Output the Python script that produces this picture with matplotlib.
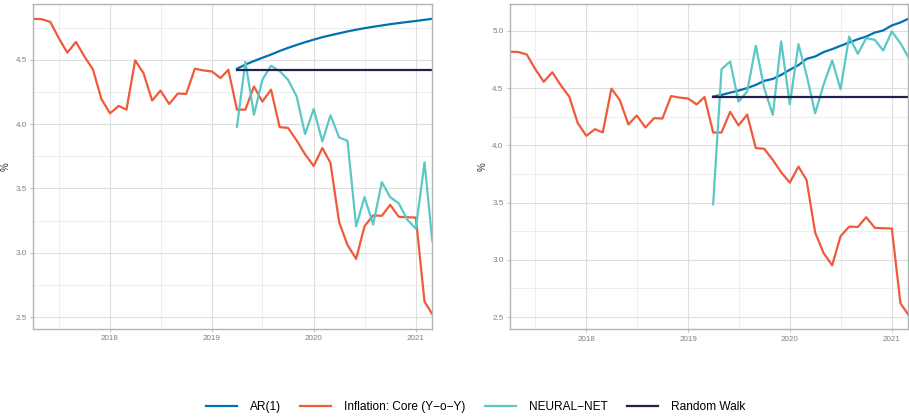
import numpy as np
import matplotlib
matplotlib.use("Agg")
import matplotlib.pyplot as plt
import matplotlib.dates as mdates

plt.rcParams['font.family'] = ['Liberation Sans', 'DejaVu Sans']

# monthly dates 2017-04 .. 2021-03
dates = np.arange(np.datetime64("2017-04"), np.datetime64("2021-04"), np.timedelta64(1, "M")).astype("datetime64[D]")
fc_dates = dates[24:]  # forecasts start 2019-04

inflation = [4.818, 4.815, 4.794, 4.669, 4.555, 4.638, 4.526, 4.424, 4.195, 4.083, 4.141, 4.112,
             4.495, 4.396, 4.182, 4.260, 4.156, 4.237, 4.234, 4.430, 4.417, 4.409, 4.357, 4.422,
             4.112, 4.112, 4.292, 4.174, 4.268, 3.976, 3.970, 3.872, 3.765, 3.674, 3.814, 3.698,
             3.238, 3.060, 2.952, 3.206, 3.290, 3.287, 3.372, 3.279, 3.276, 3.273, 2.620, 2.522]

# left panel forecasts
ar_left = [4.430, 4.462, 4.490, 4.515, 4.540, 4.568, 4.592, 4.615, 4.636, 4.656, 4.675, 4.690,
           4.705, 4.720, 4.733, 4.745, 4.756, 4.766, 4.776, 4.785, 4.793, 4.801, 4.810, 4.818]
nn_left = [3.979, 4.482, 4.073, 4.344, 4.453, 4.411, 4.344, 4.214, 3.922, 4.117, 3.865, 4.068,
           3.896, 3.870, 3.205, 3.432, 3.219, 3.549, 3.432, 3.383, 3.258, 3.187, 3.703, 3.090]

# right panel forecasts
ar_right = [4.426, 4.440, 4.460, 4.478, 4.500, 4.528, 4.563, 4.580, 4.615, 4.660, 4.700, 4.755,
            4.776, 4.814, 4.840, 4.869, 4.898, 4.927, 4.950, 4.985, 5.003, 5.047, 5.073, 5.105]
nn_right = [3.485, 4.665, 4.732, 4.382, 4.470, 4.869, 4.499, 4.266, 4.907, 4.359, 4.883, 4.615,
            4.280, 4.528, 4.741, 4.490, 4.950, 4.799, 4.936, 4.921, 4.828, 4.994, 4.892, 4.770]

rw_value = 4.422
random_walk = [rw_value] * len(fc_dates)

col_ar = "#0072B2"
col_inf = "#F05A3C"
col_nn = "#5BC8C6"
col_rw = "#231F50"

fig = plt.figure(figsize=(9.09, 4.18), dpi=100)
ax1 = fig.add_axes([0.0366, 0.2129, 0.439, 0.7775])
ax2 = fig.add_axes([0.5607, 0.2121, 0.4385, 0.7783])

panels = [(ax1, ar_left, nn_left), (ax2, ar_right, nn_right)]
for ax, ar, nn in panels:
    ax.plot(fc_dates, ar, color=col_ar, lw=1.6, label="AR(1)")
    ax.plot(dates, inflation, color=col_inf, lw=1.6, label="Inflation: Core (Y\u2212o\u2212Y)")
    ax.plot(fc_dates, nn, color=col_nn, lw=1.6, label="NEURAL\u2212NET")
    ax.plot(fc_dates, random_walk, color=col_rw, lw=1.6, label="Random Walk")

    ax.set_xlim(dates[0], dates[-1])
    allv = np.concatenate([inflation, ar, nn, random_walk])
    lo, hi = allv.min(), allv.max()
    pad = (hi - lo) * 0.05
    ax.set_ylim(lo - pad, hi + pad)

    ax.xaxis.set_major_locator(mdates.YearLocator())
    ax.xaxis.set_major_formatter(mdates.DateFormatter("%Y"))
    ax.xaxis.set_minor_locator(mdates.MonthLocator(bymonth=7))
    ax.yaxis.set_major_locator(plt.MultipleLocator(0.5))
    ax.yaxis.set_minor_locator(plt.MultipleLocator(0.25))
    ax.yaxis.set_major_formatter(plt.FormatStrFormatter("%.1f"))

    ax.grid(which="major", color="#DEDEDE", lw=0.8)
    ax.grid(which="minor", color="#EBEBEB", lw=0.6)
    ax.set_axisbelow(True)
    for s in ax.spines.values():
        s.set_color("#B3B3B3")
        s.set_linewidth(1.0)
    ax.tick_params(which="major", length=2.5, width=0.6, color="#B3B3B3",
                   labelsize=5.8, labelcolor="#7F7F7F", pad=2)
    ax.tick_params(which="minor", length=0)
    ax.set_ylabel("%", fontsize=7, color="#333333")
    ax.yaxis.set_label_coords(-0.056, 0.5)

handles, labels = ax1.get_legend_handles_labels()
fig.legend(handles, labels, loc="center", bbox_to_anchor=(0.523, 0.026), ncol=4,
           frameon=False, fontsize=8.6, handlelength=2.6, columnspacing=1.6,
           handletextpad=1.1)

fig.savefig("out.png", dpi=100)
